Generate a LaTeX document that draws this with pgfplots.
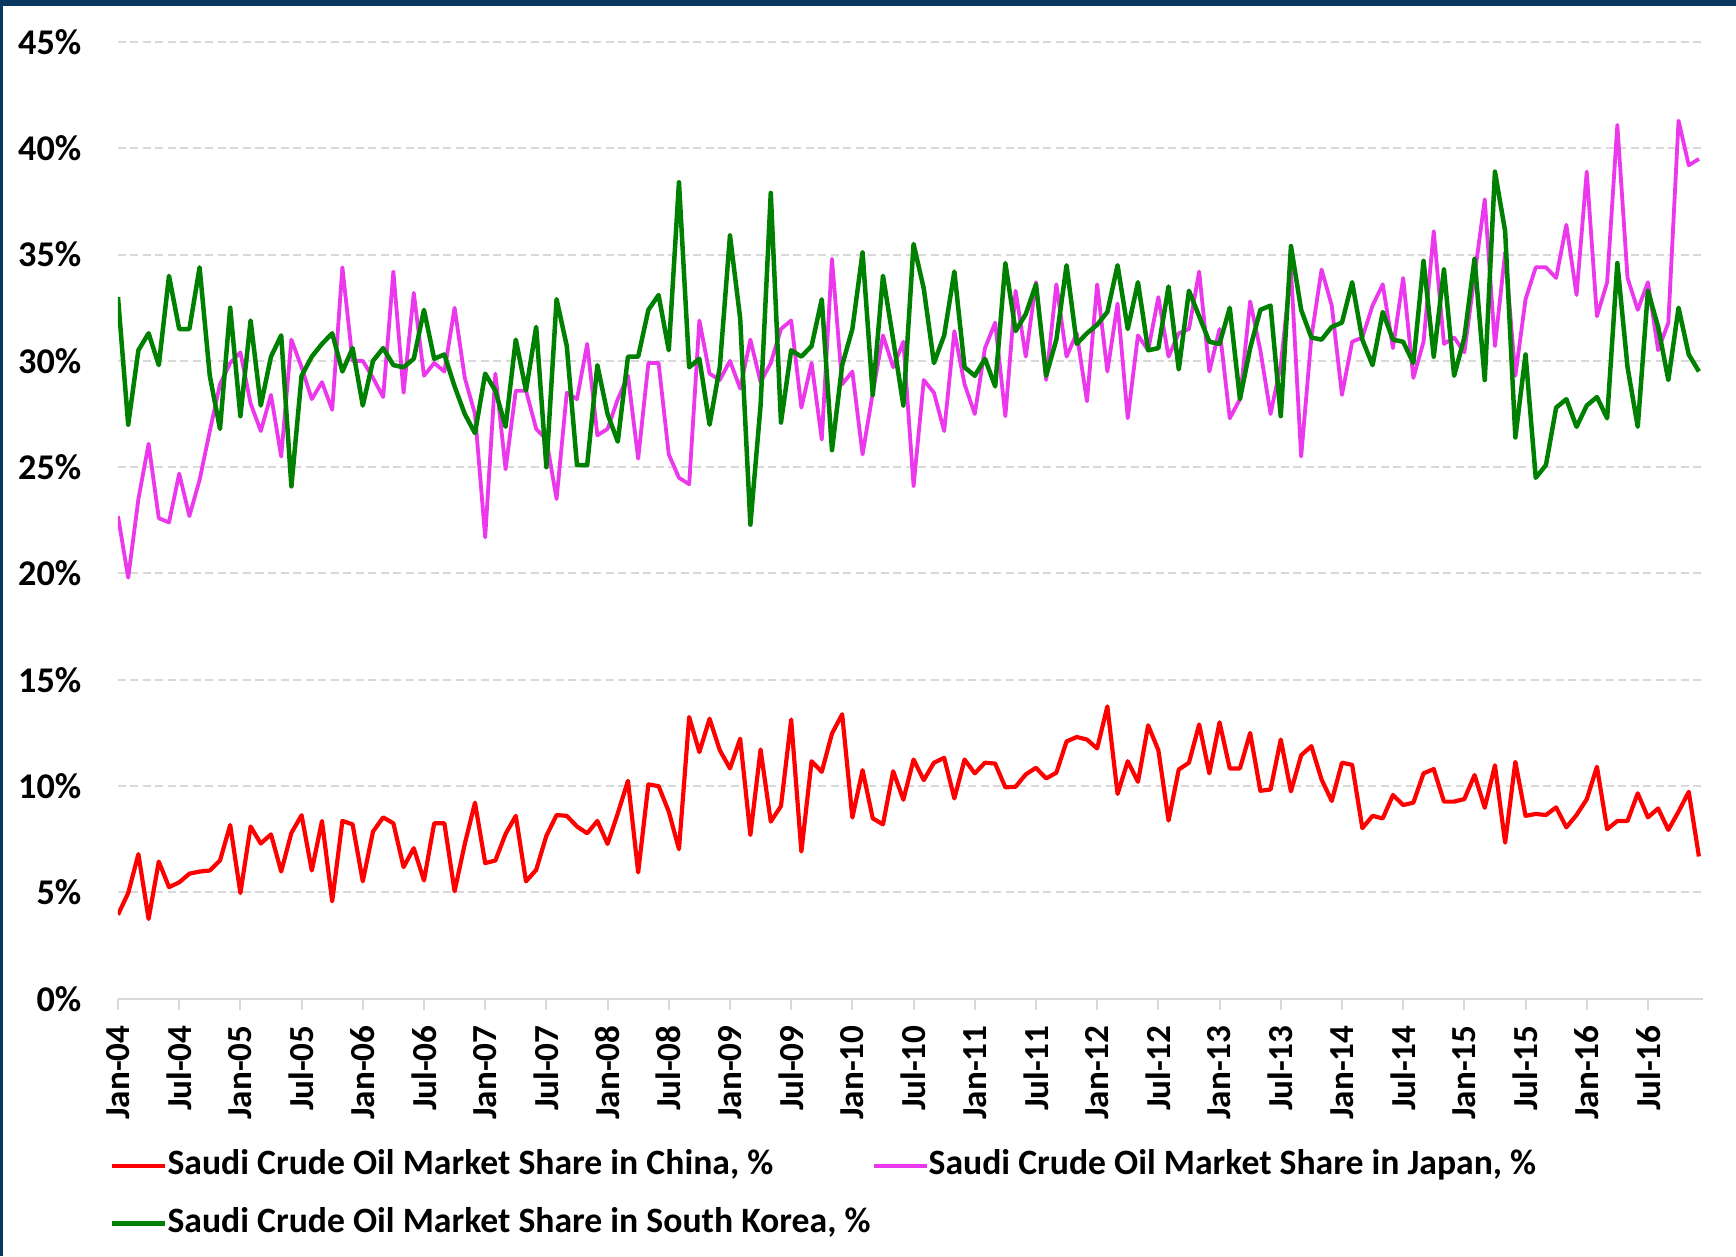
\documentclass[border=0pt]{standalone}
\usepackage{pgfplots}
\pgfplotsset{compat=1.18}
\usepackage{pgfplotstable}
\usepackage{fontspec}
\setmainfont{Carlito}
\definecolor{cnred}{RGB}{255,0,0}
\definecolor{jpmag}{RGB}{236,56,236}
\definecolor{krgreen}{RGB}{0,128,0}
\definecolor{gridgray}{RGB}{217,217,217}
\definecolor{navy}{RGB}{10,55,95}

\pgfplotstableread{
i cn jp kr
0 3.95 22.7 33.0
1 4.97 19.8 27.0
2 6.8 23.5 30.5
3 3.75 26.1 31.3
4 6.45 22.6 29.8
5 5.25 22.4 34.0
6 5.47 24.7 31.5
7 5.88 22.7 31.5
8 5.98 24.4 34.4
9 6.03 26.7 29.3
10 6.5 28.9 26.8
11 8.17 29.9 32.5
12 4.97 30.4 27.4
13 8.1 28.0 31.9
14 7.3 26.7 27.9
15 7.73 28.4 30.2
16 5.98 25.5 31.2
17 7.8 31.0 24.1
18 8.63 29.7 29.3
19 6.03 28.2 30.2
20 8.36 29.0 30.8
21 4.58 27.7 31.3
22 8.36 34.4 29.5
23 8.2 30.0 30.6
24 5.52 30.0 27.9
25 7.86 29.2 30.0
26 8.53 28.3 30.6
27 8.25 34.2 29.8
28 6.19 28.5 29.7
29 7.08 33.2 30.1
30 5.56 29.3 32.4
31 8.25 29.9 30.1
32 8.25 29.5 30.3
33 5.05 32.5 28.8
34 7.28 29.2 27.5
35 9.22 27.5 26.6
36 6.38 21.7 29.4
37 6.5 29.4 28.6
38 7.75 24.9 26.9
39 8.6 28.6 31.0
40 5.52 28.6 28.6
41 6.06 26.8 31.6
42 7.66 26.3 25.0
43 8.64 23.5 32.9
44 8.6 28.5 30.7
45 8.1 28.2 25.1
46 7.78 30.8 25.1
47 8.36 26.5 29.8
48 7.28 26.8 27.5
49 8.72 28.2 26.2
50 10.25 29.3 30.2
51 5.94 25.4 30.2
52 10.08 29.9 32.4
53 10.0 29.9 33.1
54 8.8 25.6 30.5
55 7.03 24.5 38.4
56 13.25 24.2 29.7
57 11.6 31.9 30.1
58 13.17 29.4 27.0
59 11.69 29.1 29.7
60 10.83 30.0 35.9
61 12.23 28.7 32.0
62 7.7 31.0 22.3
63 11.72 29.0 27.9
64 8.33 29.9 37.9
65 9.06 31.5 27.1
66 13.13 31.9 30.5
67 6.92 27.8 30.2
68 11.17 29.9 30.7
69 10.67 26.3 32.9
70 12.47 34.8 25.8
71 13.38 28.9 29.8
72 8.52 29.5 31.5
73 10.75 25.6 35.1
74 8.48 28.5 28.4
75 8.2 31.2 34.0
76 10.7 29.7 31.0
77 9.36 30.9 27.9
78 11.25 24.1 35.5
79 10.28 29.1 33.4
80 11.1 28.5 29.9
81 11.33 26.7 31.2
82 9.42 31.4 34.2
83 11.25 28.9 29.7
84 10.6 27.5 29.3
85 11.1 30.6 30.1
86 11.06 31.8 28.8
87 9.94 27.4 34.6
88 9.97 33.3 31.4
89 10.55 30.2 32.2
90 10.86 33.7 33.6
91 10.36 29.1 29.3
92 10.63 33.6 31.0
93 12.1 30.2 34.5
94 12.31 31.3 30.8
95 12.19 28.1 31.3
96 11.77 33.6 31.7
97 13.75 29.5 32.3
98 9.63 32.7 34.5
99 11.17 27.3 31.5
100 10.2 31.2 33.7
101 12.86 30.5 30.5
102 11.69 33.0 30.6
103 8.38 30.2 33.5
104 10.78 31.3 29.6
105 11.1 31.5 33.3
106 12.9 34.2 32.1
107 10.6 29.5 30.9
108 13.0 31.5 30.8
109 10.83 27.3 32.5
110 10.83 28.2 28.2
111 12.5 32.8 30.6
112 9.78 30.5 32.4
113 9.84 27.5 32.6
114 12.19 29.8 27.4
115 9.75 34.3 35.4
116 11.45 25.5 32.4
117 11.88 31.1 31.1
118 10.31 34.3 31.0
119 9.3 32.6 31.6
120 11.1 28.4 31.8
121 11.0 30.9 33.7
122 8.02 31.1 31.0
123 8.6 32.6 29.8
124 8.48 33.6 32.3
125 9.58 30.6 31.0
126 9.11 33.9 30.9
127 9.22 29.2 29.9
128 10.6 30.9 34.7
129 10.8 36.1 30.2
130 9.27 30.8 34.3
131 9.27 31.1 29.3
132 9.39 30.4 31.1
133 10.52 34.0 34.8
134 8.98 37.6 29.1
135 10.98 30.7 38.9
136 7.34 35.1 36.1
137 11.14 29.3 26.4
138 8.6 32.9 30.3
139 8.69 34.4 24.5
140 8.64 34.4 25.1
141 9.0 33.9 27.8
142 8.06 36.4 28.2
143 8.64 33.1 26.9
144 9.38 38.9 27.9
145 10.91 32.1 28.3
146 7.97 33.7 27.3
147 8.36 41.1 34.6
148 8.36 33.9 29.7
149 9.66 32.4 26.9
150 8.53 33.7 33.3
151 8.95 30.5 31.6
152 7.94 31.8 29.1
153 8.8 41.3 32.5
154 9.73 39.2 30.3
155 6.69 39.5 29.5
}\datatable

\begin{document}
\begin{tikzpicture}
\useasboundingbox (0,0) rectangle (17.36cm,12.56cm);
\fill[white] (0,0) rectangle (17.36cm,12.56cm);
\fill[navy] (0,12.56cm) rectangle (17.36cm,12.50cm);
\fill[navy] (0,0) rectangle (0.03cm,12.56cm);
\begin{axis}[
  at={(1.18cm,2.573cm)}, anchor=south west,
  scale only axis, width=15.85cm, height=9.567cm,
  xmin=0, xmax=155.4, ymin=0, ymax=45,
  axis x line*=bottom, axis y line*=left,
  x axis line style={draw=gridgray, line width=0.2mm, -},
  y axis line style={draw=none},
  ytick={0,5,...,45},
  yticklabels={0\%,5\%,10\%,15\%,20\%,25\%,30\%,35\%,40\%,45\%},
  xtick={0,6,...,150},
  xticklabels={Jan-04,Jul-04,Jan-05,Jul-05,Jan-06,Jul-06,Jan-07,Jul-07,Jan-08,Jul-08,Jan-09,Jul-09,Jan-10,Jul-10,Jan-11,Jul-11,Jan-12,Jul-12,Jan-13,Jul-13,Jan-14,Jul-14,Jan-15,Jul-15,Jan-16,Jul-16},
  ymajorgrids,
  grid style={draw=gridgray, line width=0.2mm, dash pattern=on 0.8mm off 0.45mm},
  tick align=outside,
  major tick length=1.1mm,
  ytick style={draw=none},
  xtick style={draw=gridgray, line width=0.2mm},
  tick label style={font=\fontsize{10}{12}\selectfont\bfseries},
  yticklabel style={anchor=east, inner sep=0pt, xshift=-2.5mm, font=\fontsize{10.3}{12}\selectfont\bfseries},
  xticklabel style={rotate=90, anchor=east, inner sep=0pt},
  xticklabel shift=1.5mm,
  legend columns=2,
  legend cell align=left,
  legend style={at={(-0.005,-0.158)}, anchor=north west, draw=none, fill=none,
    inner sep=0pt, outer sep=0pt, row sep=2.6mm,
    font=\fontsize{10.15}{12}\selectfont\bfseries,
    nodes={inner sep=0pt, text height=7pt, text depth=2pt},
    /tikz/every even column/.append style={column sep=0.15mm}},
  legend image code/.code={\draw[#1] (0mm,0mm) -- (5.3mm,0mm);},
]
\addplot[cnred, line width=0.42mm, line join=round] table[x=i, y=cn] {\datatable};
\addlegendentry{Saudi Crude Oil Market Share in China, \%}
\addplot[jpmag, line width=0.38mm, line join=round] table[x=i, y=jp] {\datatable};
\addlegendentry{Saudi Crude Oil Market Share in Japan, \%}
\addplot[krgreen, line width=0.45mm, line join=round] table[x=i, y=kr] {\datatable};
\addlegendentry{Saudi Crude Oil Market Share in South Korea, \%}
\end{axis}
\end{tikzpicture}
\end{document}
